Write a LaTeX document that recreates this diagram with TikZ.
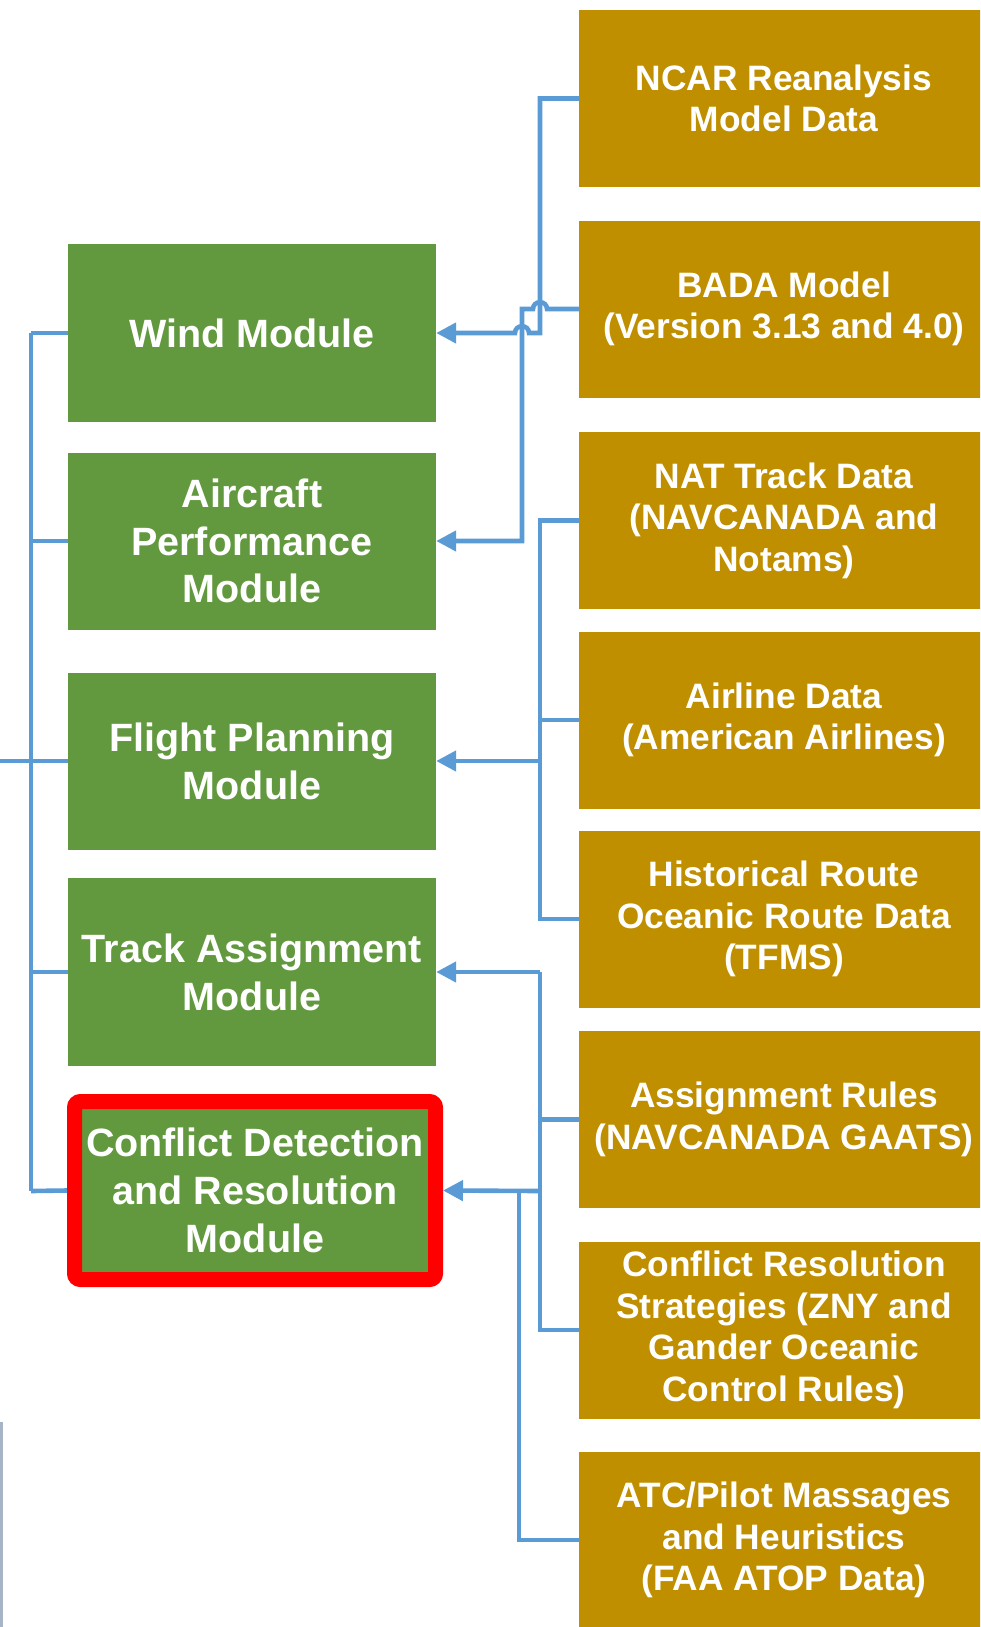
\documentclass[tikz,border=0pt]{standalone}
\usepackage{fontspec}
\setmainfont{Liberation Sans}
\usetikzlibrary{arrows.meta}

\definecolor{modgreen}{RGB}{98,152,62}
\definecolor{datagold}{RGB}{191,143,0}
\definecolor{linkblue}{RGB}{91,155,213}
\definecolor{alertred}{RGB}{255,0,0}
\definecolor{edgegrey}{RGB}{167,180,200}

\tikzset{
  module/.style={fill=modgreen, text=white, align=center, inner sep=0pt,
    font=\bfseries\fontsize{39.5}{47.8}\selectfont, minimum width=368pt},
  source/.style={fill=datagold, text=white, align=center, inner sep=0pt,
    font=\bfseries\fontsize{35.3}{41.5}\selectfont,
    minimum width=410pt, minimum height=177pt},
  link/.style={draw=linkblue, line width=4.6pt},
  feed/.style={link, -{Triangle[length=20pt,width=20pt]}},
}

\begin{document}
\begin{tikzpicture}[x=1pt,y=-1pt]
\useasboundingbox (0,0) rectangle (980,1627);
\clip (0,0) rectangle (980,1627);
\fill[white] (0,0) rectangle (980,1627);

% model modules
\node[module, minimum height=178pt] (wind)   at (252,333) {Wind Module};
\node[module, minimum height=177pt] (air)    at (252,541) {Aircraft\\Performance\\Module};
\node[module, minimum height=177pt] (flight) at (252,761) {Flight Planning\\Module};
\node[module, minimum height=188pt] (track)  at (252,972) {Track Assignment\\Module};
\node[module, minimum width=348pt, minimum height=165pt] (cdr) at (255,1190.5)
  {Conflict Detection\\and Resolution\\Module};
\node[draw=alertred, line width=15pt, rounded corners=6pt,
  minimum width=361pt, minimum height=178pt] (cdrframe) at (255,1190.5) {};

% data sources
\node[source] (ncar)    at (784,98.5)   {NCAR Reanalysis\\Model Data};
\node[source] (bada)    at (784,309)    {BADA Model\\(Version 3.13 and 4.0)};
\node[source] (nat)     at (784,520.5)  {NAT Track Data\\(NAVCANADA and\\Notams)};
\node[source] (airline) at (784,720)    {Airline Data\\(American Airlines)};
\node[source] (hist)    at (784,919)    {Historical Route\\Oceanic Route Data\\(TFMS)};
\node[source] (assign)  at (784,1119.5) {Assignment Rules\\(NAVCANADA GAATS)};
\node[source] (cres)    at (784,1330)   {Conflict Resolution\\Strategies (ZNY and\\Gander Oceanic\\Control Rules)};
\node[source] (atc)     at (784,1540)   {ATC/Pilot Massages\\and Heuristics\\(FAA ATOP Data)};

% junction points on the collector lines
\coordinate (jflight) at (540,761);
\coordinate (jtrack)  at (540,972);
\coordinate (jcdr)    at (540,1191);
\coordinate (jair)    at (540,720);
\coordinate (jassign) at (540,1119.5);
\coordinate (feedin)  at (0,761);
\coordinate (ltop)    at (31,333);
\coordinate (lbot)    at (31,1191);

% wind data and aircraft performance, with line jumps at the crossings
\draw[feed] (ncar.west) -- (540,98.5) -- (540,333) -- (529,333)
  .. controls (529,324) and (515,324) .. (515,333) -- (wind.east);
\draw[feed] (bada.west) -- (547,309)
  .. controls (547,300) and (533,300) .. (533,309) -- (522,309) -- (522,541) -- (air.east);

% flight planning inputs
\draw[link] (nat.west) -- (540,520.5) -- (540,919) -- (hist.west);
\draw[link] (airline.west) -- (jair);
\draw[feed] (jflight) -- (flight.east);

% track assignment and conflict resolution inputs
\draw[link] (cres.west) -- (540,1330) -- (jtrack);
\draw[feed] (jtrack) -- (track.east);
\draw[link] (assign.west) -- (jassign);
\draw[feed] (jcdr) -- (cdrframe.east);
\draw[link] (atc.west) -- (519,1540) -- (519,1191);

% collector on the left
\draw[link] (ltop) -- (lbot);
\draw[link] (feedin) -- (31,761);
\draw[link] (wind.west) -- (ltop);
\draw[link] (air.west) -- (31,541);
\draw[link] (flight.west) -- (31,761);
\draw[link] (track.west) -- (31,972);
\draw[link] (cdrframe.west) -- (lbot);

% edge of the neighbouring panel
\draw[edgegrey, line width=3pt] (1.5,1422) -- (1.5,1627);
\end{tikzpicture}
\end{document}
